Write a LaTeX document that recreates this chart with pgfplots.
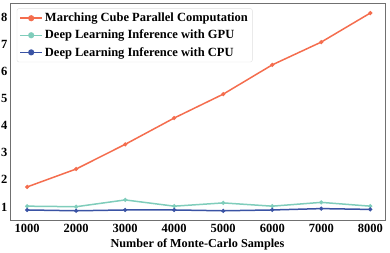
\documentclass[border=0pt]{standalone}
\usepackage{fontspec}
\setmainfont{Liberation Serif}
\usepackage{pgfplots}
\pgfplotsset{compat=1.18}
\definecolor{cred}{HTML}{F46D4E}
\definecolor{cgreen}{HTML}{7FCDBB}
\definecolor{cblue}{HTML}{3A53A4}
\definecolor{cframe}{HTML}{707070}
\begin{document}
\begin{tikzpicture}[x=1pt,y=1pt]
\useasboundingbox (-10,-32) rectangle (380,220);
\begin{axis}[
  at={(0,0)}, anchor=south west,
  scale only axis, width=375pt, height=217pt,
  xmin=650, xmax=8300, ymin=0.52, ymax=8.52,
  xtick={1000,2000,...,8000}, ytick={1,2,...,8},
  major tick length=0pt,
  axis line style={cframe, line width=0.8pt},
  tick label style={font=\bfseries\fontsize{12.5}{13}\selectfont},
  xticklabel={\pgfmathprintnumber[assume math mode=true,1000 sep={}]{\tick}},
  yticklabel={\pgfmathprintnumber[assume math mode=true]{\tick}},
  xticklabel style={yshift=-1pt},
  yticklabel style={xshift=1pt},
  xlabel={Number of Monte-Carlo Samples},
  xlabel style={font=\bfseries\fontsize{12.2}{13}\selectfont, yshift=1pt},
  legend style={font=\bfseries\fontsize{12.5}{13}\selectfont, draw=black!12, rounded corners=2pt,
    at={(0.018,0.975)}, anchor=north west, row sep=2.8pt, inner sep=2.5pt},
  legend cell align=left,
  legend image code/.code={\draw[mark repeat=2,mark phase=2,mark options={scale=1.9}] plot coordinates {(0pt,0pt)(11pt,0pt)(22pt,0pt)};},
  every axis plot/.append style={line width=1.5pt},
]
\addplot[cred, mark=*, mark size=1.2pt] coordinates {(1000,1.74)(2000,2.40)(3000,3.31)(4000,4.28)(5000,5.16)(6000,6.24)(7000,7.08)(8000,8.15)};
\addplot[cgreen, mark=*, mark size=1.2pt] coordinates {(1000,1.03)(2000,1.01)(3000,1.26)(4000,1.03)(5000,1.15)(6000,1.03)(7000,1.17)(8000,1.03)};
\addplot[cblue, mark=*, mark size=1.2pt] coordinates {(1000,0.89)(2000,0.86)(3000,0.89)(4000,0.89)(5000,0.86)(6000,0.89)(7000,0.94)(8000,0.91)};
\legend{Marching Cube Parallel Computation, Deep Learning Inference with GPU, Deep Learning Inference with CPU}
\end{axis}
\end{tikzpicture}
\end{document}
